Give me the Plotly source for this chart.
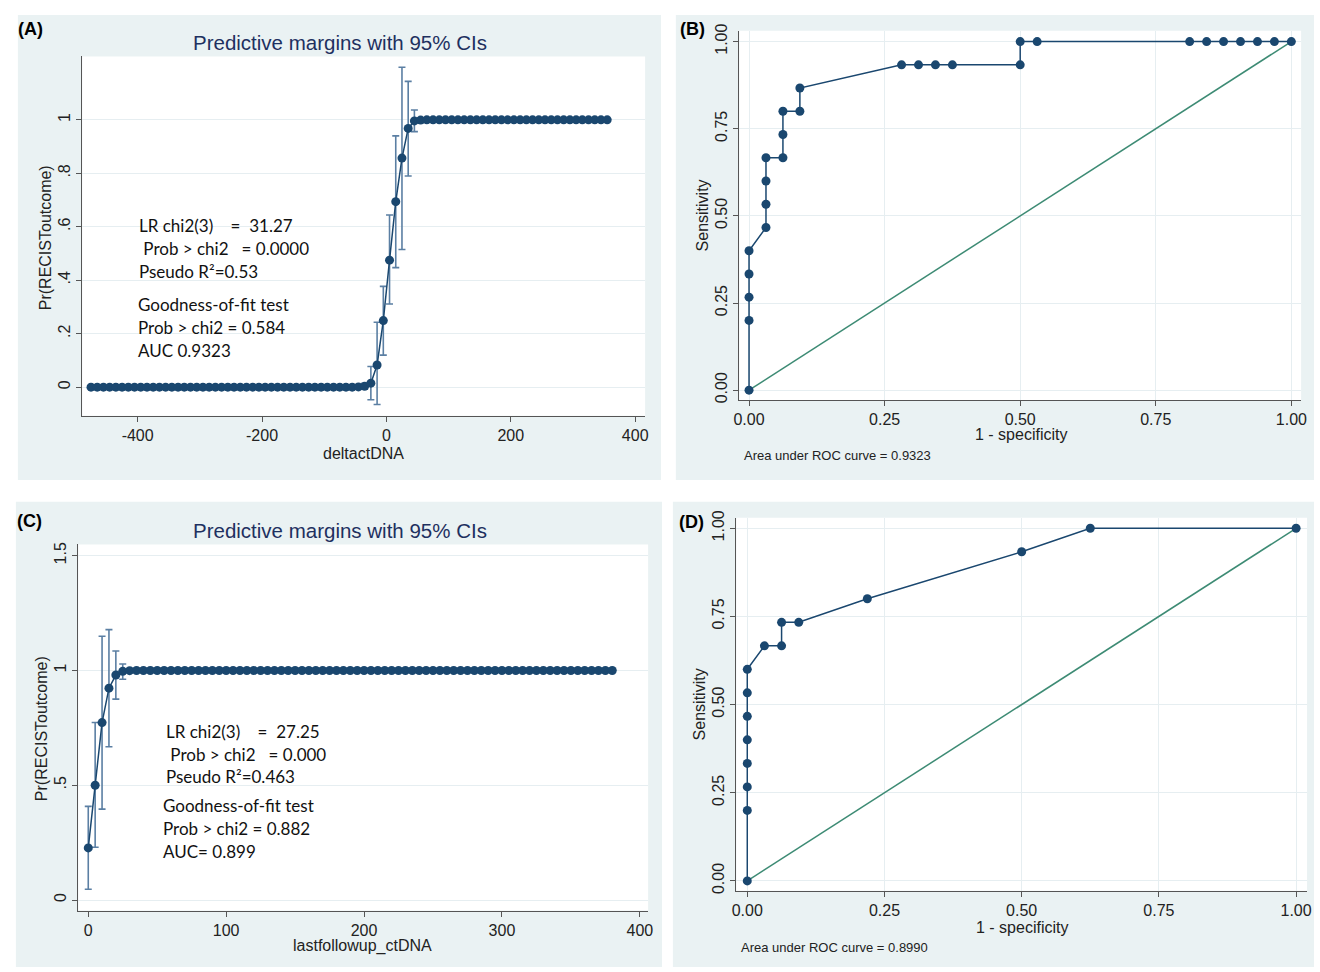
import plotly.graph_objects as go

W, H = 1320, 972

# ---------------- Panel A : predictive margins vs deltactDNA ----------------
a_x = [-475, -465, -455, -445, -435, -425, -415, -405, -395, -385,
       -375, -365, -355, -345, -335, -325, -315, -305, -295, -285,
       -275, -265, -255, -245, -235, -225, -215, -205, -195, -185,
       -175, -165, -155, -145, -135, -125, -115, -105, -95, -85,
       -75, -65, -55, -45, -35, -25, -15, -5, 5, 15,
       25, 35, 45, 55, 65, 75, 85, 95, 105, 115,
       125, 135, 145, 155, 165, 175, 185, 195, 205, 215,
       225, 235, 245, 255, 265, 275, 285, 295, 305, 315,
       325, 335, 345, 355]
a_margin = [0, 0, 0, 0, 0, 0, 0, 0, 0, 0,
            0, 0, 0, 0, 0, 0, 0, 0, 0, 0,
            0, 0, 0, 0, 0, 0, 0, 0, 0, 0,
            0, 0, 0, 0, 0, 0, 0, 0, 0, 0,
            0, 0, 0, 0.001, 0.003, 0.015, 0.083, 0.249, 0.475, 0.694,
            0.857, 0.968, 0.996, 0.999, 1, 1, 1, 1, 1, 1,
            1, 1, 1, 1, 1, 1, 1, 1, 1, 1,
            1, 1, 1, 1, 1, 1, 1, 1, 1, 1,
            1, 1, 1, 1]
a_lo = [0, 0, 0, 0, 0, 0, 0, 0, 0, 0,
        0, 0, 0, 0, 0, 0, 0, 0, 0, 0,
        0, 0, 0, 0, 0, 0, 0, 0, 0, 0,
        0, 0, 0, 0, 0, 0, 0, 0, 0, 0,
        0, 0, 0, -0.002, -0.008, -0.047, -0.065, 0.120, 0.311, 0.447,
        0.515, 0.790, 0.956, 0.990, 0.998, 1, 1, 1, 1, 1,
        1, 1, 1, 1, 1, 1, 1, 1, 1, 1,
        1, 1, 1, 1, 1, 1, 1, 1, 1, 1,
        1, 1, 1, 1]
a_hi = [0, 0, 0, 0, 0, 0, 0, 0, 0, 0,
        0, 0, 0, 0, 0, 0, 0, 0, 0, 0,
        0, 0, 0, 0, 0, 0, 0, 0, 0, 0,
        0, 0, 0, 0, 0, 0, 0, 0, 0, 0,
        0, 0, 0, 0.004, 0.014, 0.077, 0.243, 0.377, 0.644, 0.940,
        1.197, 1.144, 1.037, 1.008, 1.002, 1, 1, 1, 1, 1,
        1, 1, 1, 1, 1, 1, 1, 1, 1, 1,
        1, 1, 1, 1, 1, 1, 1, 1, 1, 1,
        1, 1, 1, 1]
a_xticks = [-400, -200, 0, 200, 400]
a_xticklabels = ["-400", "-200", "0", "200", "400"]
a_yticks = [0, 0.2, 0.4, 0.6, 0.8, 1]
a_yticklabels = ["0", ".2", ".4", ".6", ".8", "1"]

# ---------------- Panel B : ROC curve (AUC 0.9323) ----------------
b_fpr = [0, 0, 0, 0, 0, 0.03125, 0.03125, 0.03125, 0.03125, 0.0625,
         0.0625, 0.0625, 0.09375, 0.09375, 0.28125, 0.3125, 0.34375, 0.375, 0.5, 0.5,
         0.53125, 0.8125, 0.84375, 0.875, 0.90625, 0.9375, 0.96875, 1.0]
b_sens = [0, 0.2, 0.2667, 0.3333, 0.4, 0.4667, 0.5333, 0.6, 0.6667, 0.6667,
          0.7333, 0.8, 0.8, 0.8667, 0.9333, 0.9333, 0.9333, 0.9333, 0.9333, 1.0,
          1.0, 1.0, 1.0, 1.0, 1.0, 1.0, 1.0, 1.0]

# ---------------- Panel C : predictive margins vs lastfollowup_ctDNA ----------------
c_x = [0, 5, 10, 15, 20, 25, 30, 35, 40, 45,
       50, 55, 60, 65, 70, 75, 80, 85, 90, 95,
       100, 105, 110, 115, 120, 125, 130, 135, 140, 145,
       150, 155, 160, 165, 170, 175, 180, 185, 190, 195,
       200, 205, 210, 215, 220, 225, 230, 235, 240, 245,
       250, 255, 260, 265, 270, 275, 280, 285, 290, 295,
       300, 305, 310, 315, 320, 325, 330, 335, 340, 345,
       350, 355, 360, 365, 370, 375, 380]
c_margin = [0.227, 0.500, 0.773, 0.923, 0.980, 0.996, 0.999, 1, 1, 1,
            1, 1, 1, 1, 1, 1, 1, 1, 1, 1,
            1, 1, 1, 1, 1, 1, 1, 1, 1, 1,
            1, 1, 1, 1, 1, 1, 1, 1, 1, 1,
            1, 1, 1, 1, 1, 1, 1, 1, 1, 1,
            1, 1, 1, 1, 1, 1, 1, 1, 1, 1,
            1, 1, 1, 1, 1, 1, 1, 1, 1, 1,
            1, 1, 1, 1, 1, 1, 1]
c_lo = [0.047, 0.230, 0.396, 0.668, 0.875, 0.962, 0.993, 1, 1, 1,
        1, 1, 1, 1, 1, 1, 1, 1, 1, 1,
        1, 1, 1, 1, 1, 1, 1, 1, 1, 1,
        1, 1, 1, 1, 1, 1, 1, 1, 1, 1,
        1, 1, 1, 1, 1, 1, 1, 1, 1, 1,
        1, 1, 1, 1, 1, 1, 1, 1, 1, 1,
        1, 1, 1, 1, 1, 1, 1, 1, 1, 1,
        1, 1, 1, 1, 1, 1, 1]
c_hi = [0.408, 0.773, 1.149, 1.178, 1.085, 1.028, 1.005, 1, 1, 1,
        1, 1, 1, 1, 1, 1, 1, 1, 1, 1,
        1, 1, 1, 1, 1, 1, 1, 1, 1, 1,
        1, 1, 1, 1, 1, 1, 1, 1, 1, 1,
        1, 1, 1, 1, 1, 1, 1, 1, 1, 1,
        1, 1, 1, 1, 1, 1, 1, 1, 1, 1,
        1, 1, 1, 1, 1, 1, 1, 1, 1, 1,
        1, 1, 1, 1, 1, 1, 1]
c_xticks = [0, 100, 200, 300, 400]
c_yticks = [0, 0.5, 1, 1.5]
c_yticklabels = ["0", ".5", "1", "1.5"]

# ---------------- Panel D : ROC curve (AUC 0.8990) ----------------
d_fpr = [0, 0, 0, 0, 0, 0, 0, 0, 0.03125, 0.0625,
         0.0625, 0.09375, 0.21875, 0.5, 0.625, 1.0]
d_sens = [0, 0.2, 0.2667, 0.3333, 0.4, 0.4667, 0.5333, 0.6, 0.6667, 0.6667,
          0.7333, 0.7333, 0.8, 0.9333, 1.0, 1.0]

roc_ticks = [0, 0.25, 0.5, 0.75, 1.0]
roc_ticklabels = ["0.00", "0.25", "0.50", "0.75", "1.00"]
ref_line = [0, 1]

# ---------------- styling ----------------
NAVY = "#1a476f"
CI = "#5b7fa3"
GREEN = "#3d8b74"
PANEL_BG = "#eaf2f3"
GRID = "#e6eef1"
AXC = "#555555"
FONT = "Liberation Sans, Arial, sans-serif"
NOTE_FONT = "Lato, Open Sans, sans-serif"


def px(x):
    return x / W


def py(y):
    return 1 - y / H


fig = go.Figure()

# Panel A
fig.add_trace(go.Scatter(
    x=a_x, y=a_margin, mode="lines+markers",
    line=dict(color=NAVY, width=1.5),
    marker=dict(color=NAVY, size=9),
    error_y=dict(type="data", symmetric=False,
                 array=[h - m for h, m in zip(a_hi, a_margin)],
                 arrayminus=[m - l for m, l in zip(a_margin, a_lo)],
                 color=CI, thickness=1.6, width=3.5),
    xaxis="x", yaxis="y"))

# Panel B
fig.add_trace(go.Scatter(x=ref_line, y=ref_line, mode="lines",
                         line=dict(color=GREEN, width=1.5), xaxis="x2", yaxis="y2"))
fig.add_trace(go.Scatter(x=b_fpr, y=b_sens, mode="lines+markers",
                         line=dict(color=NAVY, width=1.5),
                         marker=dict(color=NAVY, size=9), xaxis="x2", yaxis="y2"))

# Panel C
fig.add_trace(go.Scatter(
    x=c_x, y=c_margin, mode="lines+markers",
    line=dict(color=NAVY, width=1.5),
    marker=dict(color=NAVY, size=9),
    error_y=dict(type="data", symmetric=False,
                 array=[h - m for h, m in zip(c_hi, c_margin)],
                 arrayminus=[m - l for m, l in zip(c_margin, c_lo)],
                 color=CI, thickness=1.6, width=3.5),
    xaxis="x3", yaxis="y3"))

# Panel D
fig.add_trace(go.Scatter(x=ref_line, y=ref_line, mode="lines",
                         line=dict(color=GREEN, width=1.5), xaxis="x4", yaxis="y4"))
fig.add_trace(go.Scatter(x=d_fpr, y=d_sens, mode="lines+markers",
                         line=dict(color=NAVY, width=1.5),
                         marker=dict(color=NAVY, size=9), xaxis="x4", yaxis="y4"))


def axis(domain, rng, tickvals, ticktext=None, grid=True, anchor=None, yax=False):
    d = dict(domain=domain, range=rng, tickvals=tickvals,
             showline=True, linecolor=AXC, linewidth=1, mirror=False,
             ticks="outside", ticklen=5, tickcolor=AXC, tickwidth=1,
             tickfont=dict(family=FONT, size=16, color="#222222"),
             showgrid=grid, gridcolor=GRID, gridwidth=1, zeroline=False,
             anchor=anchor, fixedrange=True)
    if ticktext is not None:
        d["ticktext"] = ticktext
    if yax:
        d["tickangle"] = -90
    return d


# plot-area pixel boxes (left, top, right, bottom)
boxA = (77, 50, 645, 413)
boxB = (740, 24, 1307, 397)
boxC = (73, 543, 648, 913)
boxD = (737, 516, 1313, 893)


def dom_x(b):
    return [px(b[0]), px(b[2])]


def dom_y(b):
    return [py(b[3]), py(b[1])]


fig.update_layout(
    xaxis=axis(dom_x(boxA), [-489, 416], a_xticks, a_xticklabels, grid=False, anchor="y"),
    yaxis=axis(dom_y(boxA), [-0.107, 1.237], a_yticks, a_yticklabels, anchor="x", yax=True),
    xaxis2=axis(dom_x(boxB), [-0.018, 1.018], roc_ticks, roc_ticklabels, anchor="y2"),
    yaxis2=axis(dom_y(boxB), [-0.028, 1.031], roc_ticks, roc_ticklabels, anchor="x2", yax=True),
    xaxis3=axis(dom_x(boxC), [-7.2, 406], c_xticks, grid=False, anchor="y3"),
    yaxis3=axis(dom_y(boxC), [-0.046, 1.549], c_yticks, c_yticklabels, anchor="x3", yax=True),
    xaxis4=axis(dom_x(boxD), [-0.02, 1.02], roc_ticks, roc_ticklabels, anchor="y4"),
    yaxis4=axis(dom_y(boxD), [-0.028, 1.030], roc_ticks, roc_ticklabels, anchor="x4", yax=True),
)

# panel backgrounds and white plot regions
shapes = []
for (l, t, r, b) in [(12, 8, 661, 478), (676, 8, 1320, 478), (10, 500, 662, 970), (673, 500, 1320, 970)]:
    shapes.append(dict(type="rect", xref="paper", yref="paper", x0=px(l), x1=px(r), y0=py(b), y1=py(t),
                       fillcolor=PANEL_BG, line=dict(width=0), layer="below"))
for (l, t, r, b) in [boxA, boxB, boxC, boxD]:
    shapes.append(dict(type="rect", xref="paper", yref="paper", x0=px(l), x1=px(r), y0=py(b), y1=py(t),
                       fillcolor="white", line=dict(width=0), layer="below"))

ann = []


def text(s, x, y, size=16, color="#222222", family=FONT, xanchor="center", angle=0, bold=False):
    if bold:
        s = "<b>" + s + "</b>"
    ann.append(dict(text=s, x=px(x), y=py(y), xref="paper", yref="paper", showarrow=False,
                    xanchor=xanchor, yanchor="middle", textangle=angle,
                    font=dict(family=family, size=size, color=color)))


# panel letters
text("(A)", 25, 22, size=18, color="#000000", bold=True)
text("(B)", 693, 22, size=18, color="#000000", bold=True)
text("(C)", 24, 519, size=18, color="#000000", bold=True)
text("(D)", 692, 520, size=18, color="#000000", bold=True)

# titles
text("Predictive margins with 95% CIs", 337, 36, size=20.5, color="#1e3060")
text("Predictive margins with 95% CIs", 337, 529, size=20.5, color="#1e3060")

# axis titles
text("Pr(RECISToutcome)", 40, 233, angle=-90)
text("deltactDNA", 361, 451)
text("Pr(RECISToutcome)", 36, 729, angle=-90)
text("lastfollowup_ctDNA", 360, 949)
text("Sensitivity", 703, 211, angle=-90)
text("1 - specificity", 1024, 432)
text("Area under ROC curve = 0.9323", 743, 453, size=13, xanchor="left")
text("Sensitivity", 700, 705, angle=-90)
text("1 - specificity", 1025, 930)
text("Area under ROC curve = 0.8990", 740, 950, size=13, xanchor="left")

# model statistics notes
notesA = [("LR chi2(3)    =  31.27", 132, 221), (" Prob > chi2   = 0.0000", 132, 244),
          ("Pseudo R²=0.53", 132, 267), ("Goodness-of-fit test", 131, 301),
          ("Prob > chi2 = 0.584", 131, 324), ("AUC 0.9323", 131, 347)]
notesC = [("LR chi2(3)    =  27.25", 159, 732), (" Prob > chi2   = 0.000", 159, 755),
          ("Pseudo R²=0.463", 159, 778), ("Goodness-of-fit test", 156, 807),
          ("Prob > chi2 = 0.882", 156, 830), ("AUC= 0.899", 156, 853)]
for s, x, y in notesA + notesC:
    text(s, x, y, size=17, color="#111111", family=NOTE_FONT, xanchor="left")

fig.update_layout(
    width=W, height=H, autosize=False,
    margin=dict(l=0, r=0, t=0, b=0),
    paper_bgcolor="white", plot_bgcolor="white",
    showlegend=False, shapes=shapes, annotations=ann,
    font=dict(family=FONT),
)

fig.write_html("out.html", config={"displayModeBar": False},
               post_script="document.body.style.margin='0';document.body.style.overflow='hidden';")
